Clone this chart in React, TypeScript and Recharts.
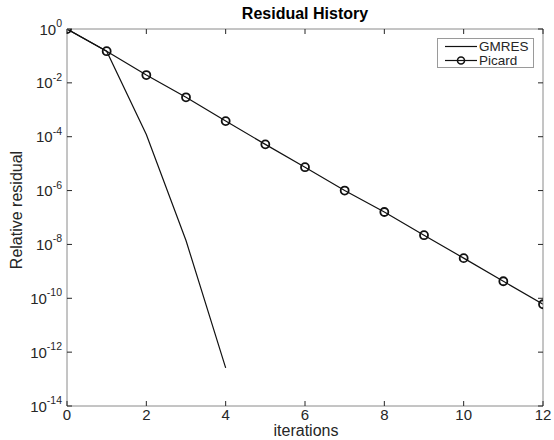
import React from 'react';
import { LineChart, Line, XAxis, YAxis, Legend } from 'recharts';

// iteration numbers
const iterations = [0, 1, 2, 3, 4, 5, 6, 7, 8, 9, 10, 11, 12];
// GMRES relative residual (stops after 4 iterations)
const gmresValues = [1, 1.5e-1, 1.2e-4, 1.4e-8, 2.6e-13];
// Picard relative residual
const picardValues = [
  1, 1.5e-1, 1.95e-2, 2.9e-3, 3.8e-4, 5.2e-5, 7.4e-6, 1.0e-6, 1.6e-7, 2.2e-8, 3.1e-9, 4.3e-10, 6.0e-11,
];
const xTicks = [0, 2, 4, 6, 8, 10, 12];
const yTicks = [1, 1e-2, 1e-4, 1e-6, 1e-8, 1e-10, 1e-12, 1e-14];

const data = iterations.map((it, i) => ({
  x: it,
  gmres: i < gmresValues.length ? gmresValues[i] : undefined,
  picard: picardValues[i],
}));

const AXIS = '#8a8a8a';
const TEXT = '#262626';
const FONT = 'Liberation Sans, Arial, Helvetica, sans-serif';

const LeftTick = (props: any) => {
  const { x, y, payload } = props;
  const exp = Math.round(Math.log10(payload.value));
  const ax = x + 5;
  return (
    <g>
      <line x1={ax} x2={ax + 5} y1={y} y2={y} stroke={TEXT} strokeWidth={1} />
      <text x={x} y={y + 5.5} textAnchor="end" fill={TEXT} fontSize={15} fontFamily={FONT}>
        10<tspan dy={-7.5} fontSize={10.5}>{exp}</tspan>
      </text>
    </g>
  );
};

const RightTick = (props: any) => {
  const { x, y } = props;
  return <line x1={x} x2={x - 5} y1={y} y2={y} stroke={TEXT} strokeWidth={1} />;
};

const BottomTick = (props: any) => {
  const { x, y, payload } = props;
  return (
    <g>
      <line x1={x} x2={x} y1={y} y2={y - 5} stroke={TEXT} strokeWidth={1} />
      <text x={x} y={y + 14} textAnchor="middle" fill={TEXT} fontSize={15} fontFamily={FONT}>
        {payload.value}
      </text>
    </g>
  );
};

const TopTick = (props: any) => {
  const { x, y } = props;
  return <line x1={x} x2={x} y1={y} y2={y + 5} stroke={TEXT} strokeWidth={1} />;
};

const PicardDot = (props: any) => {
  const { cx, cy, index } = props;
  if (cx == null || cy == null) return <g key={index} />;
  return <circle key={index} cx={cx} cy={cy} r={4} fill="none" stroke="#111" strokeWidth={1.8} />;
};

const LegendBox = () => (
  <div
    style={{
      width: 95,
      height: 28,
      border: '1px solid #9a9a9a',
      background: '#fff',
      boxSizing: 'content-box',
    }}
  >
    <svg width={95} height={28} style={{ display: 'block' }}>
      <line x1={7} x2={39} y1={7.5} y2={7.5} stroke="#111" strokeWidth={1.2} />
      <text x={41} y={12} fontSize={13.5} fontFamily={FONT} fill={TEXT}>GMRES</text>
      <line x1={7} x2={39} y1={21.5} y2={21.5} stroke="#111" strokeWidth={1.2} />
      <circle cx={23} cy={21.5} r={3.5} fill="none" stroke="#111" strokeWidth={1.6} />
      <text x={41} y={26} fontSize={13.5} fontFamily={FONT} fill={TEXT}>Picard</text>
    </svg>
  </div>
);

export default function App() {
  return (
    <div style={{ position: 'absolute', left: 0, top: 0, width: 554, height: 440, background: '#fff' }}>
      <LineChart width={554} height={440} data={data} margin={{ top: 28, right: 10, bottom: 0, left: 0 }}>
        <XAxis
          dataKey="x"
          type="number"
          domain={[0, 12]}
          ticks={xTicks}
          interval={0}
          height={34}
          tickSize={0}
          tickMargin={0}
          tick={<BottomTick />}
          axisLine={{ stroke: AXIS }}
          allowDataOverflow
        />
        <XAxis
          xAxisId="top"
          dataKey="x"
          orientation="top"
          type="number"
          domain={[0, 12]}
          ticks={xTicks}
          interval={0}
          height={1}
          tickSize={0}
          tickMargin={0}
          tick={<TopTick />}
          axisLine={{ stroke: AXIS }}
          allowDataOverflow
        />
        <YAxis
          scale="log"
          type="number"
          domain={[1e-14, 1]}
          ticks={yTicks}
          interval={0}
          width={67}
          tickSize={0}
          tickMargin={5}
          tick={<LeftTick />}
          axisLine={{ stroke: AXIS }}
          allowDataOverflow
        />
        <YAxis
          yAxisId="right"
          orientation="right"
          scale="log"
          type="number"
          domain={[1e-14, 1]}
          ticks={yTicks}
          interval={0}
          width={1}
          tickSize={0}
          tickMargin={0}
          tick={<RightTick />}
          axisLine={{ stroke: AXIS }}
          allowDataOverflow
        />
        <Legend
          layout="horizontal"
          verticalAlign="middle"
          align="center"
          content={<LegendBox />}
          wrapperStyle={{ left: 437, top: 38, width: 97, height: 30 }}
        />
        {/* invisible series that binds the box axes (top / right) */}
        <Line
          xAxisId="top"
          yAxisId="right"
          dataKey="picard"
          stroke="none"
          dot={false}
          activeDot={false}
          legendType="none"
          isAnimationActive={false}
        />
        <Line
          type="linear"
          dataKey="gmres"
          stroke="#111"
          strokeWidth={1.2}
          dot={false}
          isAnimationActive={false}
          connectNulls={false}
        />
        <Line
          type="linear"
          dataKey="picard"
          stroke="#111"
          strokeWidth={1.2}
          dot={<PicardDot />}
          isAnimationActive={false}
        />
        <text x={305} y={19} textAnchor="middle" fontWeight="bold" fontSize={16} fontFamily={FONT} fill="#000">
          Residual History
        </text>
        <text x={306} y={436} textAnchor="middle" fontSize={16} fontFamily={FONT} fill={TEXT}>
          iterations
        </text>
        <text
          x={22}
          y={210}
          textAnchor="middle"
          fontSize={16}
          fontFamily={FONT}
          fill={TEXT}
          transform="rotate(-90 22 210)"
        >
          Relative residual
        </text>
      </LineChart>
    </div>
  );
}
